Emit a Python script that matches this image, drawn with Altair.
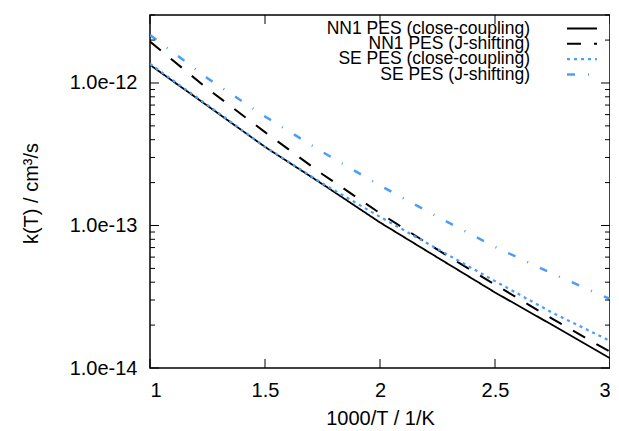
import altair as alt
import pandas as pd

# ---- data ----
names = [
    "NN1 PES (close-coupling)",
    "NN1 PES (J-shifting)",
    "SE PES (close-coupling)",
    "SE PES (J-shifting)",
]
x_vals = [1.0, 1.25, 1.5, 1.75, 2.0, 2.25, 2.5, 2.75, 3.0]
k_nn1_cc = [1.34e-12, 6.92e-13, 3.56e-13, 1.95e-13, 1.05e-13, 5.96e-14, 3.39e-14, 2.00e-14, 1.17e-14]
k_nn1_js = [1.95e-12, 9.12e-13, 4.52e-13, 2.29e-13, 1.22e-13, 6.76e-14, 3.85e-14, 2.21e-14, 1.30e-14]
k_se_cc = [1.36e-12, 7.00e-13, 3.56e-13, 1.97e-13, 1.15e-13, 6.84e-14, 4.07e-14, 2.44e-14, 1.55e-14]
k_se_js = [2.17e-12, 1.08e-12, 5.82e-13, 3.28e-13, 1.91e-13, 1.15e-13, 7.08e-14, 4.59e-14, 3.05e-14]

x_ticks = [1, 1.5, 2, 2.5, 3]
y_major = [1e-14, 1e-13, 1e-12]
y_minor = [2e-14, 3e-14, 4e-14, 5e-14, 6e-14, 7e-14, 8e-14, 9e-14,
           2e-13, 3e-13, 4e-13, 5e-13, 6e-13, 7e-13, 8e-13, 9e-13,
           2e-12, 3e-12]

# ---- styles ----
colors = ["#000000", "#000000", "#4c9df7", "#4c9df7"]
dashes = [[1, 0], [14, 13], [3, 4], [8, 13, 1, 13]]
widths = [1.8, 2.5, 2.2, 2.2]
FONT = "Liberation Sans"
W, H = 460, 353

rows = []
for name, ks in zip(names, [k_nn1_cc, k_nn1_js, k_se_cc, k_se_js]):
    for x, k in zip(x_vals, ks):
        rows.append({"series": name, "x": x, "k": k})
df = pd.DataFrame(rows)

xscale = alt.Scale(domain=[1, 3], nice=False, zero=False)
yscale = alt.Scale(type="log", domain=[1e-14, 3e-12], nice=False)
xaxis = alt.Axis(values=x_ticks, format="~g", title="1000/T / 1/K",
                 titleY=56, titleBaseline="alphabetic", labelPadding=12)
yaxis = alt.Axis(values=y_major, format=".1e", title="k(T) / cm³/s",
                 titleX=-113, titleY=178, titleAngle=270,
                 titleBaseline="alphabetic", labelPadding=13)

color_s = alt.Scale(domain=names, range=colors)
dash_s = alt.Scale(domain=names, range=dashes)
width_s = alt.Scale(domain=names, range=widths)

lines = alt.Chart(df).mark_line(clip=True).encode(
    x=alt.X("x:Q", scale=xscale, axis=xaxis),
    y=alt.Y("k:Q", scale=yscale, axis=yaxis),
    color=alt.Color("series:N", scale=color_s, legend=None),
    strokeDash=alt.StrokeDash("series:N", scale=dash_s, legend=None),
    strokeWidth=alt.StrokeWidth("series:N", scale=width_s, legend=None),
)

xt = pd.DataFrame({"x": x_ticks})
ymaj = pd.DataFrame({"k": y_major})
ymin = pd.DataFrame({"k": y_minor})

def xrule(y1, y2):
    return alt.Chart(xt).mark_rule(color="black", strokeWidth=1).encode(
        x=alt.X("x:Q", scale=xscale, axis=xaxis),
        y=alt.value(y1), y2=alt.value(y2))

def yrule(data, x1, x2):
    return alt.Chart(data).mark_rule(color="black", strokeWidth=1).encode(
        y=alt.Y("k:Q", scale=yscale, axis=yaxis),
        x=alt.value(x1), x2=alt.value(x2))

ticks = [
    xrule(H, H - 9), xrule(0, 9),
    yrule(ymaj, 0, 9), yrule(ymaj, W, W - 9),
    yrule(ymin, 0, 5), yrule(ymin, W, W - 5),
]

main = alt.layer(lines, *ticks)

leg_df = pd.DataFrame({"series": names})
leg_y = alt.Y("series:N", scale=alt.Scale(type="point", domain=names,
                                          range=[13.5, 59.5], padding=0), axis=None)
leg_text = alt.Chart(leg_df).mark_text(
    align="right", baseline="middle", font=FONT, fontSize=17.5, color="black"
).encode(x=alt.value(380), y=leg_y, text="series:N")
leg_line = alt.Chart(leg_df).mark_rule().encode(
    x=alt.value(417), x2=alt.value(447), y=leg_y,
    color=alt.Color("series:N", scale=color_s, legend=None),
    strokeDash=alt.StrokeDash("series:N", scale=dash_s, legend=None),
    strokeWidth=alt.StrokeWidth("series:N", scale=width_s, legend=None),
)

chart = alt.layer(main, leg_text, leg_line).resolve_scale(
    y="independent"
).properties(
    width=W, height=H,
    autosize="none",
    padding={"left": 142, "top": 7, "right": 0, "bottom": 60},
).configure_view(
    stroke="black", strokeWidth=1.5
).configure_axis(
    grid=False, ticks=False, tickSize=0, domain=False,
    labelFont=FONT, labelFontSize=20, labelColor="black",
    titleFont=FONT, titleFontSize=20, titleColor="black",
    titleFontWeight="normal",
)

chart.save("out.html", embed_options={"renderer": "svg", "actions": False})
